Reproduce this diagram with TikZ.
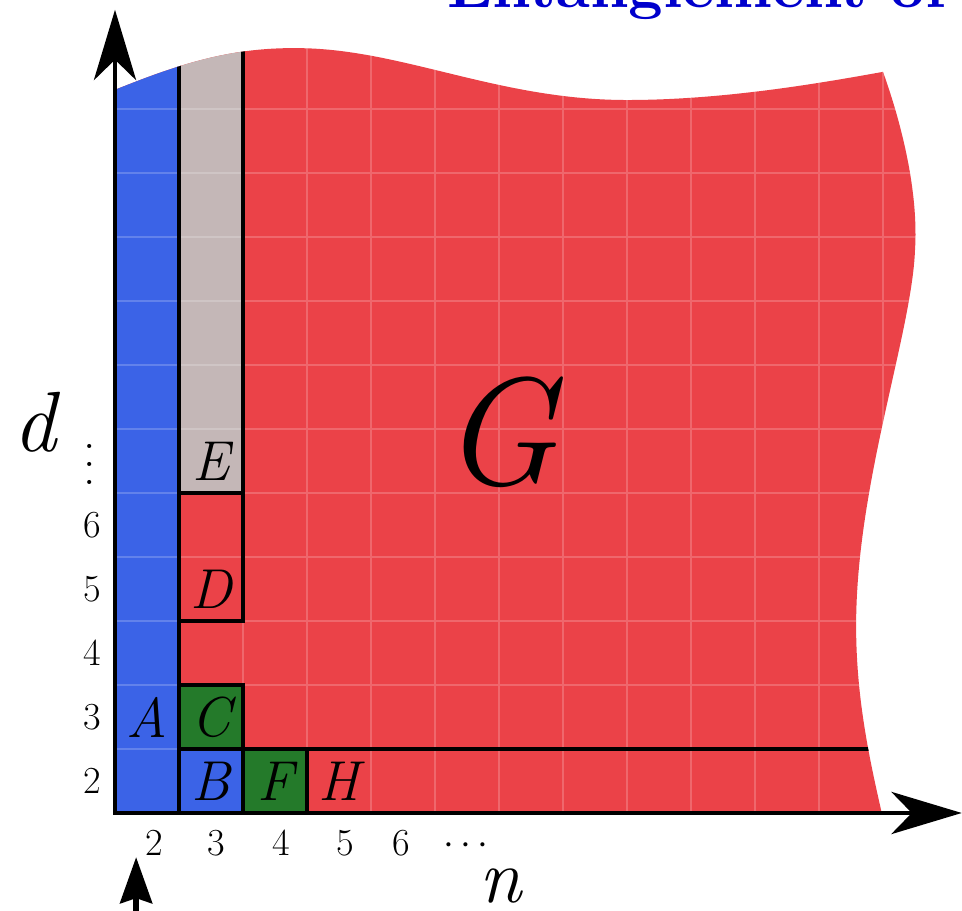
\documentclass[tikz,border=0pt]{standalone}
\usepackage{fontspec}
\usepackage{graphicx}
\usetikzlibrary{arrows.meta}

\definecolor{regionred}{RGB}{235,66,72}
\definecolor{regionblue}{RGB}{59,99,231}
\definecolor{regiongray}{RGB}{196,183,183}
\definecolor{regiongreen}{RGB}{36,122,42}
\definecolor{titleblue}{RGB}{0,0,204}

% outline of the whole (n,d) region
\def\regionpath{(0,0) -- (0,11.30)
  .. controls (1.0,11.70) and (1.8,11.97) .. (2.9,11.95)
  .. controls (4.5,11.93) and (6.0,11.14) .. (8.0,11.14)
  .. controls (9.5,11.14) and (11.0,11.40) .. (12.0,11.58)
  .. controls (12.35,10.6) and (12.55,9.6) .. (12.5,8.8)
  .. controls (12.45,7.5) and (11.6,5.2) .. (11.58,3.0)
  .. controls (11.57,1.8) and (11.8,0.8) .. (11.98,0) -- cycle}

\begin{document}
\begin{tikzpicture}[
  boxline/.style={line width=1.8pt, black},
  gridline/.style={white, opacity=0.2, line width=0.6pt},
  axes/.style={line width=1.8pt,
    {Stealth[length=1.1cm, width=0.66cm, inset=0.32cm]}-{Stealth[length=1.1cm, width=0.66cm, inset=0.32cm]}},
  pointer/.style={line width=2.6pt, -{Stealth[length=0.72cm, width=0.5cm, inset=0.08cm]}},
  letter/.style={font=\fontsize{25}{30}\selectfont\itshape},
  ticklab/.style={font=\fontsize{17}{20}\selectfont},
  axlab/.style={font=\fontsize{38}{44}\selectfont\itshape}
]

% Frame of the picture
\clip (-1.797,-1.531) rectangle (13.234,12.703);

% Title (cut off at the top)
\node[anchor=base east, text=titleblue, inner sep=0pt] (title) at (13.0,12.58)
  {\resizebox{7.8cm}{!}{\bfseries Entanglement of}};

% Coloured regions
\fill[regionred] \regionpath;
\begin{scope}
  \clip \regionpath;
  \fill[regionblue] (0,0) rectangle (1,13);
  \fill[regiongray] (1,5) rectangle (2,13);
  \fill[regionblue] (1,0) rectangle (2,1);
  \fill[regiongreen] (1,1) rectangle (2,2);
  \fill[regiongreen] (2,0) rectangle (3,1);
  \draw[gridline] (0,0) grid (13,13);

  % Box outlines
  \draw[boxline] (1,0) -- (1,13);
  \draw[boxline] (2,5) -- (2,13);
  \draw[boxline] (1,3) rectangle (2,5);
  \draw[boxline] (1,0) rectangle (2,2);
  \draw[boxline] (1,1) -- (2,1);
  \draw[boxline] (2,0) rectangle (3,1);
  \draw[boxline] (2,1) -- (12,1);
\end{scope}

% Axes
\coordinate (O) at (0,0);
\coordinate (ytip) at (0,12.55);
\coordinate (xtip) at (13.23,0);
\draw[axes] (ytip) -- (O) -- (xtip);

% Pointer below the axis
\coordinate (pinfoot) at (0.33,-1.7);
\coordinate (pintip) at (0.33,-0.69);
\draw[pointer] (pinfoot) -- (pintip);

% Region labels
\node[letter] (A) at (0.5,1.5) {A};
\node[letter] (B) at (1.5,0.5) {B};
\node[letter] (C) at (1.5,1.5) {C};
\node[letter] (D) at (1.5,3.5) {D};
\node[letter] (E) at (1.5,5.5) {E};
\node[letter] (F) at (2.5,0.5) {F};
\node[letter] (H) at (3.5,0.5) {H};
\node[font=\fontsize{68}{80}\selectfont\itshape] (G) at (6.0,5.95) {G};

% Tick labels
\foreach \v [count=\i from 0] in {2,...,6}
  \node[ticklab] (row\v) at (-0.36,\i+0.5) {\v};
\node[align=center, inner sep=0pt, font=\fontsize{22}{8pt}\selectfont] (rowdots) at (-0.39,5.44) {.\\.\\.};
\foreach \v/\x in {2/0.62,3/1.58,4/2.6,5/3.6,6/4.48}
  \node[ticklab] (col\v) at (\x,-0.47) {\v};
\node[font=\fontsize{18}{21}\selectfont] (coldots) at (5.48,-0.52) {$\cdots$};

% Axis labels
\node[axlab] (dlab) at (-1.25,6.1) {d};
\node[font=\fontsize{34}{40}\selectfont\itshape] (nlab) at (6.03,-1.14) {n};

\end{tikzpicture}
\end{document}
